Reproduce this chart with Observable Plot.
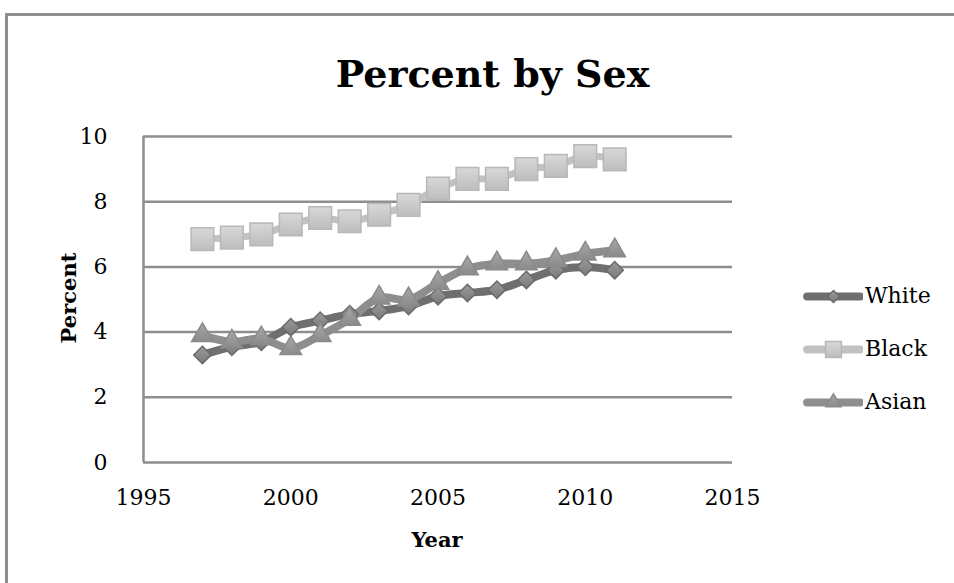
<!DOCTYPE html>
<html>
<head>
<meta charset="utf-8">
<script src="https://cdn.jsdelivr.net/npm/d3@7"></script>
<script src="https://cdn.jsdelivr.net/npm/@observablehq/plot@0.6"></script>
<style>
  html, body { margin: 0; padding: 0; background: #fff; }
  #wrap { position: relative; width: 954px; height: 583px; overflow: hidden; font-family: "DejaVu Serif", "Liberation Serif", serif; }
  #frame { position: absolute; left: 5px; top: 13px; width: 960px; height: 600px; border-top: 3px solid #8e8e8e; border-left: 3px solid #8e8e8e; box-sizing: border-box; }
  #title { position: absolute; left: 0; width: 985px; top: 55px; line-height: 1; text-align: center; font-weight: bold; font-size: 38px; color: #000; }
  .axt { position: absolute; font-weight: bold; font-size: 21px; line-height: 1; color: #000; }
  #xlab { left: 387px; width: 100px; text-align: center; top: 529px; }
  #ylab { left: 68px; top: 298px; transform: translate(-50%, -50%) rotate(-90deg); white-space: nowrap; }
  #legend { position: absolute; left: 803px; top: 269px; }
  .li { display: flex; align-items: center; height: 53px; font-size: 22px; }
  .li svg { margin-right: 2px; }
  #plot { position: absolute; left: 0; top: 0; }
</style>
</head>
<body>
<div id="wrap">
  <div id="frame"></div>
  <div id="plot"></div>
  <div id="title">Percent by Sex</div>
  <div id="xlab" class="axt">Year</div>
  <div id="ylab" class="axt">Percent</div>
  <div id="legend"></div>
</div>
<script>
const years = [1997,1998,1999,2000,2001,2002,2003,2004,2005,2006,2007,2008,2009,2010,2011];
const white = [3.3,3.55,3.7,4.15,4.35,4.55,4.65,4.8,5.1,5.2,5.3,5.6,5.9,6.0,5.9];
const black = [6.85,6.9,7.0,7.3,7.5,7.4,7.6,7.9,8.4,8.7,8.7,9.0,9.1,9.4,9.3];
const asian = [3.9,3.7,3.8,3.5,3.9,4.4,5.05,5.0,5.5,5.95,6.1,6.1,6.2,6.4,6.5];
const seriesNames = ["White","Black","Asian"];
const xTicks = [1995,2000,2005,2010,2015];
const yTicks = [0,2,4,6,8,10];

const style = {
  White: {line: "#6f6f6f", width: 8, symbol: "diamond2", r: 7.8, fill: "url(#gWhite)", stroke: "#6a6a6a"},
  Black: {line: "#c2c2c2", width: 7, symbol: "square", r: 12.8, fill: "url(#gBlack)", stroke: "#b8b8b8"},
  Asian: {line: "#8e8e8e", width: 8, symbol: "triangle", r: 8, fill: "url(#gAsian)", stroke: "#8a8a8a"}
};
const valuesBy = {White: white, Black: black, Asian: asian};
const rows = seriesNames.flatMap(s => years.map((y, i) => ({series: s, year: y, value: valuesBy[s][i]})));

const marks = [
  Plot.ruleY(yTicks, {stroke: "#8e8e8e", strokeWidth: 2.5}),
  Plot.ruleX([1995], {y1: 0, y2: 10, stroke: "#8e8e8e", strokeWidth: 2.5}),
  Plot.axisX({ticks: xTicks, tickFormat: "d", tickSize: 0, tickPadding: 27, fontSize: 22, label: null}),
  Plot.axisY({ticks: yTicks, tickSize: 0, tickPadding: 36, fontSize: 22, label: null})
];
for (const s of seriesNames) {
  marks.push(Plot.line(rows.filter(d => d.series === s), {x: "year", y: "value", stroke: style[s].line, strokeWidth: style[s].width, curve: "catmull-rom", strokeLinecap: "round", strokeLinejoin: "round"}));
}
for (const s of seriesNames) {
  marks.push(Plot.dot(rows.filter(d => d.series === s), {x: "year", y: "value", symbol: style[s].symbol, r: style[s].r, fill: style[s].fill, stroke: style[s].stroke, strokeWidth: 1.5, style: "filter: drop-shadow(1px 2px 1.5px rgba(0,0,0,0.35))"}));
}

const chart = Plot.plot({
  width: 954,
  height: 583,
  marginLeft: 143,
  marginRight: 222,
  marginTop: 136,
  marginBottom: 121,
  x: {domain: [1995, 2015]},
  y: {domain: [0, 10]},
  style: {fontFamily: "'DejaVu Serif', 'Liberation Serif', serif", fontSize: "22px", color: "#000", background: "transparent"},
  marks
});

const ns = "http://www.w3.org/2000/svg";
function addDefs(svg) {
  const defs = document.createElementNS(ns, "defs");
  const grads = {gWhite: ["#9a9a9a", "#7a7a7a"], gBlack: ["#d8d8d8", "#bdbdbd"], gAsian: ["#a8a8a8", "#8a8a8a"]};
  for (const [id, [a, b]] of Object.entries(grads)) {
    const g = document.createElementNS(ns, "linearGradient");
    g.setAttribute("id", id); g.setAttribute("x1", "0"); g.setAttribute("y1", "0"); g.setAttribute("x2", "0"); g.setAttribute("y2", "1");
    const s1 = document.createElementNS(ns, "stop"); s1.setAttribute("offset", "0"); s1.setAttribute("stop-color", a);
    const s2 = document.createElementNS(ns, "stop"); s2.setAttribute("offset", "1"); s2.setAttribute("stop-color", b);
    g.appendChild(s1); g.appendChild(s2); defs.appendChild(g);
  }
  svg.insertBefore(defs, svg.firstChild);
}
addDefs(chart);
chart.querySelectorAll("text").forEach(t => t.setAttribute("fill", "#000"));
document.getElementById("plot").appendChild(chart);

// legend
const legend = document.getElementById("legend");
for (const s of seriesNames) {
  const row = document.createElement("div");
  row.className = "li";
  const sw = Plot.plot({
    width: 60, height: 30, margin: 0,
    x: {domain: [0, 2]}, y: {domain: [0, 1]},
    axis: null,
    style: {background: "transparent"},
    marks: [
      Plot.line([{x: 0.12, y: 0.5}, {x: 1.88, y: 0.5}], {x: "x", y: "y", stroke: style[s].line, strokeWidth: 8, strokeLinecap: "round"}),
      Plot.dot([{x: 1, y: 0.5}], {x: "x", y: "y", symbol: style[s].symbol, r: style[s].r * 0.7, fill: style[s].fill, stroke: style[s].stroke})
    ]
  });
  addDefs(sw);
  row.appendChild(sw);
  const lab = document.createElement("span");
  lab.textContent = s;
  row.appendChild(lab);
  legend.appendChild(row);
}
</script>
</body>
</html>
